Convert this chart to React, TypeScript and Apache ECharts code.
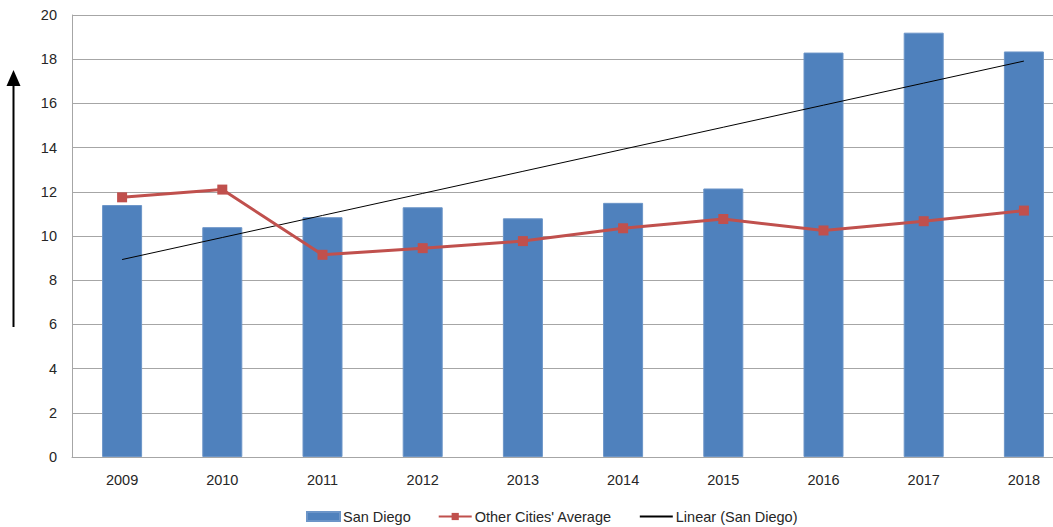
import React, { useEffect, useRef } from "react";
import * as echarts from "echarts";

const years = ["2009", "2010", "2011", "2012", "2013", "2014", "2015", "2016", "2017", "2018"];
const sanDiego = [11.4, 10.4, 10.85, 11.3, 10.8, 11.5, 12.15, 18.3, 19.2, 18.35];
const otherCities = [11.75, 12.1, 9.15, 9.45, 9.77, 10.35, 10.77, 10.25, 10.67, 11.15];

function linearFit(vals: number[]): number[] {
  const n = vals.length;
  const xs = vals.map((_, i) => i + 1);
  const mx = xs.reduce((a, b) => a + b, 0) / n;
  const my = vals.reduce((a, b) => a + b, 0) / n;
  let num = 0;
  let den = 0;
  for (let i = 0; i < n; i++) {
    num += (xs[i] - mx) * (vals[i] - my);
    den += (xs[i] - mx) * (xs[i] - mx);
  }
  const slope = num / den;
  return xs.map((x) => +(my + slope * (x - mx)).toFixed(3));
}

const trend = linearFit(sanDiego);

export default function App() {
  const ref = useRef<HTMLDivElement>(null);
  useEffect(() => {
    if (!ref.current) return;
    const chart = echarts.init(ref.current, undefined, { renderer: "svg" });
    const font = "'Liberation Sans', Arial, sans-serif";
    const txt = "#262626";
    chart.setOption({
      animation: false,
      backgroundColor: "#ffffff",
      textStyle: { fontFamily: font },
      grid: { left: 72, top: 15, width: 1002, height: 442, containLabel: false },
      legend: {
        left: 306,
        top: 509,
        padding: 0,
        itemWidth: 33,
        itemHeight: 9,
        itemGap: 27,
        textStyle: { fontSize: 14.5, color: txt, fontFamily: font, padding: [0, 0, 0, -2] },
        data: [
          { name: "San Diego", icon: "rect" },
          { name: "Other Cities' Average" },
          { name: "Linear (San Diego)", itemStyle: { opacity: 0 } },
        ],
      },
      xAxis: {
        type: "category",
        data: years,
        axisLine: { show: true, lineStyle: { color: "#A6A6A6", width: 1 } },
        axisTick: { show: false },
        axisLabel: { fontSize: 14.5, color: txt, margin: 15, fontFamily: font },
      },
      yAxis: {
        type: "value",
        min: 0,
        max: 20,
        interval: 2,
        axisLine: { show: true, lineStyle: { color: "#A6A6A6", width: 1 } },
        axisTick: { show: false },
        axisLabel: { fontSize: 14.5, color: txt, margin: 15, fontFamily: font },
        splitLine: { show: true, lineStyle: { color: "#A6A6A6", width: 1 } },
      },
      series: [
        {
          name: "San Diego",
          type: "bar",
          data: sanDiego,
          barWidth: 40,
          itemStyle: { color: "#4F81BD", borderColor: "#6C95C8", borderWidth: 1 },
          z: 1,
        },
        {
          name: "Linear (San Diego)",
          type: "line",
          data: trend,
          symbol: "none",
          lineStyle: { color: "#000000", width: 1 },
          itemStyle: { color: "#000000" },
          z: 3,
        },
        {
          name: "Other Cities' Average",
          type: "line",
          data: otherCities,
          symbol: "rect",
          symbolSize: 10,
          lineStyle: { color: "#C0504D", width: 3 },
          itemStyle: { color: "#C0504D" },
          z: 4,
        },
      ],
      graphic: [
        {
          type: "line",
          shape: { x1: 13.5, y1: 327, x2: 13.5, y2: 82 },
          style: { stroke: "#000000", lineWidth: 2 },
        },
        {
          type: "polygon",
          shape: { points: [[13.5, 70], [6.5, 86], [20.5, 86]] },
          style: { fill: "#000000" },
        },
      ],
    });
    return () => chart.dispose();
  }, []);
  return (
    <div
      style={{
        position: "fixed",
        left: 0,
        top: 0,
        width: 1053,
        height: 527,
        overflow: "hidden",
        background: "#ffffff",
      }}
    >
      <div ref={ref} style={{ width: 1100, height: 527 }} />
    </div>
  );
}
